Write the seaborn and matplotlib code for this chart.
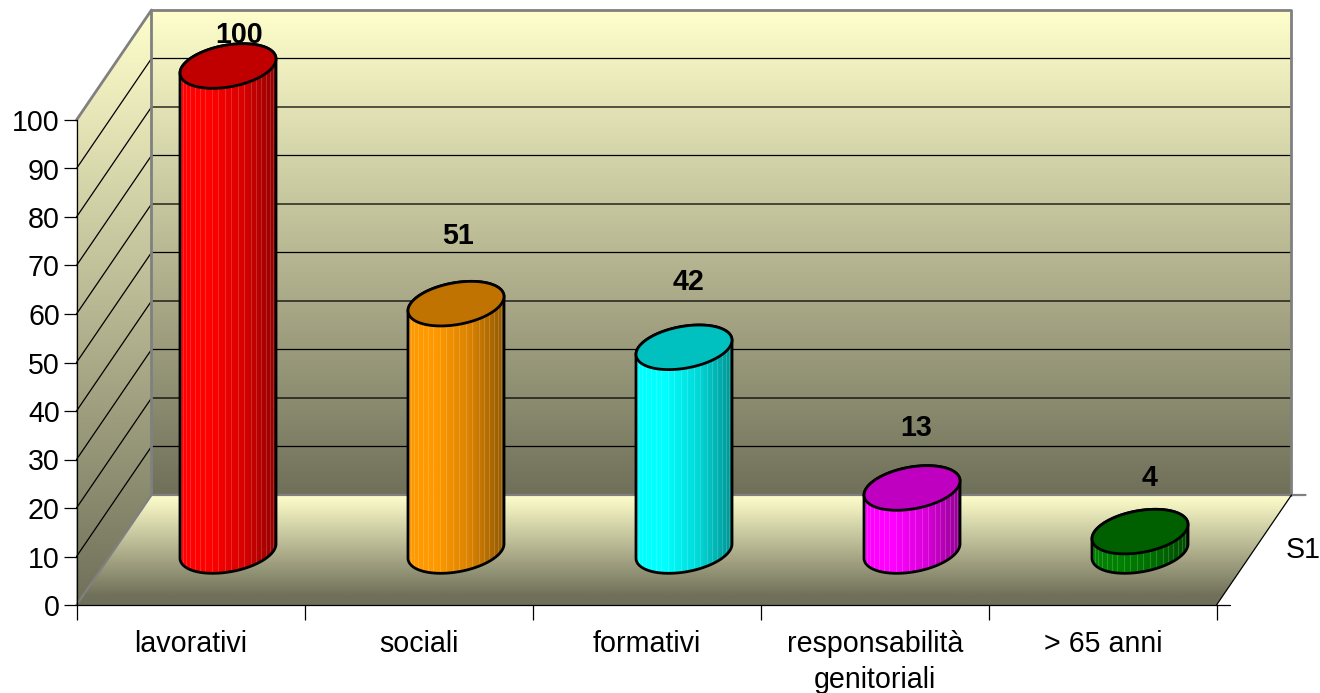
# 3D style cylinder chart, drawn on a flat axes with a fake depth offset
import numpy as np
import pandas as pd
import seaborn as sns
import matplotlib
matplotlib.use("Agg")
import matplotlib.pyplot as plt
from matplotlib.patches import Polygon

categories = ["lavorativi", "sociali", "formativi", "responsabilità\ngenitoriali", "> 65 anni"]
values = [100, 51, 42, 13, 4]
value_labels = ["100", "51", "42", "13", "4"]
y_ticks = list(range(0, 101, 10))
series_label = "S1"
side_colors = ["#ff0000", "#ff9900", "#00ffff", "#ff00ff", "#008000"]
top_colors = ["#c00000", "#c07300", "#00c0c0", "#c000c0", "#006000"]
# where each value label sits: height above the cylinder base, pixels right of its centre
label_heights = [106.4, 65.0, 55.5, 25.4, 15.1]
label_shift_px = [11, 2.5, 4.5, 4.5, 10]

W, H = 1320, 693
PX_X = 228.0    # pixels per category
PX_Y = 4.85     # pixels per value unit
BASE_PX = 551   # pixel row of the cylinder bases
DX = 75 / PX_X  # depth of the box in data units
DY = 110 / PX_Y
FRONT_X = -0.5 - DX / 2
FRONT_Y = -(605 - BASE_PX) / PX_Y
LIGHT = np.array([255, 255, 204]) / 255
DARK = np.array([112, 112, 90]) / 255

sns.set_theme(style="white")
plt.rcParams["font.family"] = ["Liberation Sans", "DejaVu Sans"]
FONT = 20.6

fig = plt.figure(figsize=(W / 100, H / 100), dpi=100)
ax = fig.add_axes([0, 0, 1, 1])

df = pd.DataFrame({"cat": categories, "val": values})
sns.barplot(data=df, x="cat", y="val", hue="cat", palette=side_colors, width=96 / PX_X,
            dodge=False, legend=False, ax=ax, zorder=5, linewidth=0)

# data limits that put the cylinder bases where the box needs them
xlim = (-228 / PX_X, (W - 228) / PX_X)
ylim = (-(H - BASE_PX) / PX_Y, BASE_PX / PX_Y)


def gradient(poly_pts, y_top, y_dark, y_bottom, zorder=1):
    # vertical gradient from light to dark at y_dark, flat below that, clipped to a polygon
    ys = np.linspace(y_top, y_bottom, 256)
    t = np.clip((y_top - ys) / (y_top - y_dark), 0, 1)[:, None, None]
    img = LIGHT[None, None, :] * (1 - t) + DARK[None, None, :] * t
    im = ax.imshow(img, extent=(xlim[0], xlim[1], y_bottom, y_top), origin="upper",
                   aspect="auto", zorder=zorder, interpolation="bilinear")
    clip = Polygon(poly_pts, closed=True, transform=ax.transData, fc="none", ec="none")
    ax.add_patch(clip)
    im.set_clip_path(clip)


bx = FRONT_X + DX
by = FRONT_Y + DY
right = FRONT_X + 5
top = 100

# back wall, left wall, floor
gradient([(bx, by), (right + DX, by), (right + DX, by + top), (bx, by + top)], by + top, by, by)
gradient([(FRONT_X, FRONT_Y), (bx, by), (bx, by + top), (FRONT_X, FRONT_Y + top)], by + top, FRONT_Y, FRONT_Y)
gradient([(FRONT_X, FRONT_Y), (right, FRONT_Y), (right + DX, by), (bx, by)], by, FRONT_Y + 9 / PX_Y, FRONT_Y)

# grid lines on the walls
for v in y_ticks[1:-1]:
    ax.plot([FRONT_X, bx, right + DX], [FRONT_Y + v, by + v, by + v], color="black", lw=0.9, zorder=2)

# box edges
GREY = "#808080"
ax.plot([FRONT_X, bx, bx], [FRONT_Y + top, by + top, by], color=GREY, lw=2.0, zorder=3)
ax.plot([bx, right + DX, right + DX], [by + top, by + top, by], color=GREY, lw=2.0, zorder=3)
ax.plot([FRONT_X, bx, right + DX + 14 / PX_X], [FRONT_Y, by, by], color=GREY, lw=1.6, zorder=3)
ax.plot([right, right + DX], [FRONT_Y, by], color="black", lw=0.9, zorder=3)
ax.plot([right, right + 13 / PX_X], [FRONT_Y, FRONT_Y], color="black", lw=0.9, zorder=3)

# cylinders, built on the bars seaborn drew
shade = np.interp(np.linspace(0, 1, 256), [0, 0.3, 0.65, 1], [1.0, 1.0, 0.85, 0.58])
r_y = 22.3 / PX_Y
r_dx = 15.3 / PX_X
for i, bar in enumerate(ax.patches[:len(values)]):
    x0, w, h = bar.get_x(), bar.get_width(), bar.get_height()
    cx = x0 + w / 2
    r_x = np.sqrt((w / 2) ** 2 - r_dx ** 2)
    t_r = np.arctan2(r_dx, r_x)


    def ell(t, base):
        return cx + r_x * np.cos(t) + r_dx * np.sin(t), base + r_y * np.sin(t)


    tb = np.linspace(t_r + np.pi, t_r + 2 * np.pi, 80)
    tt = np.linspace(t_r, t_r + np.pi, 80)
    xb, yb = ell(tb, 0)
    xt, yt = ell(tt, h)
    pts = np.column_stack([np.r_[xb, xt], np.r_[yb, yt]])
    body = Polygon(pts, closed=True, transform=ax.transData, fc="none", ec="none")
    ax.add_patch(body)
    bar.set_clip_path(body)

    base_col = np.array(matplotlib.colors.to_rgb(side_colors[i]))
    img = (base_col[None, :] * shade[:, None])[None, :, :]
    im = ax.imshow(img, extent=(x0, x0 + w, -r_y * 2, h + r_y * 2), aspect="auto",
                   zorder=6, interpolation="bilinear")
    im.set_clip_path(body)

    # facet stripes
    for a in np.linspace(0.1, np.pi - 0.1, 22):
        sx = cx - (w / 2) * np.cos(a)
        ln, = ax.plot([sx, sx], [-r_y * 2, h + r_y * 2], color="white", alpha=0.17, lw=0.8, zorder=7)
        ln.set_clip_path(body)

    ax.add_patch(Polygon(pts, closed=True, fc="none", ec="black", lw=2.0, zorder=8, joinstyle="round"))
    tc = np.linspace(0, 2 * np.pi, 160)
    xc, yc = ell(tc, h)
    ax.add_patch(Polygon(np.column_stack([xc, yc]), closed=True, fc=top_colors[i], ec="black",
                         lw=2.0, zorder=9))

    ax.text(cx + label_shift_px[i] / PX_X, label_heights[i], value_labels[i], ha="center", va="center",
            fontsize=FONT, fontweight="bold", color="black", zorder=4.5)

ax.text(right + DX + (1302 - 1290) / PX_X, FRONT_Y + (605 - 550) / PX_Y, series_label, ha="center",
        va="center", fontsize=FONT, color="black", zorder=4)

ax.set_xlim(*xlim)
ax.set_ylim(*ylim)
ax.axis("off")

# front plane with the real axes
front = fig.add_axes([77 / W, (H - 605) / H, 1140 / W, 485 / H], facecolor="none")
front.set_xlim(0, 5)
front.set_ylim(0, 100)
sns.despine(ax=front, top=True, right=True)
front.spines["left"].set_linewidth(0.9)
front.spines["bottom"].set_linewidth(0.9)
front.spines["left"].set_color("black")
front.spines["bottom"].set_color("black")
front.set_yticks(y_ticks)
front.set_yticklabels([str(v) for v in y_ticks], fontsize=FONT)
front.set_xticks(range(6))
front.set_xticklabels([])
front.set_xticks(np.arange(5) + 0.5, minor=True)
front.set_xticklabels(categories, minor=True, fontsize=FONT, linespacing=1.35)
front.tick_params(axis="y", which="major", left=True, length=9.4, width=0.9, color="black", pad=3, labelcolor="black")
front.tick_params(axis="x", which="major", bottom=True, length=10.8, width=0.9, color="black")
front.tick_params(axis="x", which="minor", bottom=False, length=0, pad=18, labelcolor="black")
front.xaxis.get_major_ticks()[-1].tick1line.set_color(GREY)

fig.savefig("out.png", dpi=100)
